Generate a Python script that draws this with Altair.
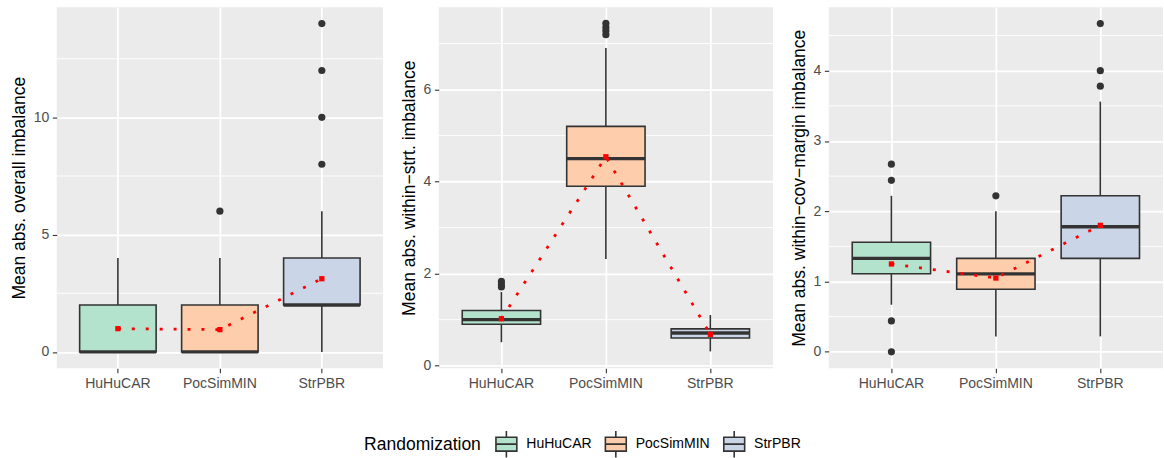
import altair as alt
import pandas as pd

CATS = ["HuHuCAR", "PocSimMIN", "StrPBR"]
FILLS = ["#B3E2CD", "#FDCDAC", "#CBD5E8"]

# ---- Panel 1: overall imbalance
p1_lower = [0, 0, 0]
p1_q1 = [0, 0, 2]
p1_median = [0, 0, 2]
p1_q3 = [2, 2, 4]
p1_upper = [4, 4, 6]
p1_mean = [0.99, 0.95, 3.12]
p1_out_cat = ["PocSimMIN", "StrPBR", "StrPBR", "StrPBR", "StrPBR"]
p1_out_val = [6, 8, 10, 12, 14]
p1_ticks = [0, 5, 10]
p1_minor = [2.5, 7.5, 12.5]
p1_domain = [-0.7, 14.7]
p1_title = "Mean abs. overall imbalance"

# ---- Panel 2: within-stratum imbalance
p2_lower = [0.51, 2.32, 0.31]
p2_q1 = [0.90, 3.90, 0.60]
p2_median = [1.00, 4.50, 0.71]
p2_q3 = [1.20, 5.20, 0.80]
p2_upper = [1.60, 6.90, 1.10]
p2_mean = [1.02, 4.54, 0.68]
p2_out_cat = ["HuHuCAR", "HuHuCAR", "HuHuCAR", "PocSimMIN", "PocSimMIN", "PocSimMIN", "PocSimMIN"]
p2_out_val = [1.71, 1.76, 1.83, 7.19, 7.27, 7.35, 7.44]
p2_ticks = [0, 2, 4, 6]
p2_minor = [1, 3, 5, 7]
p2_domain = [-0.057, 7.79]
p2_title = "Mean abs. within\u2212strt. imbalance"

# ---- Panel 3: within-covariate-margin imbalance
p3_lower = [0.67, 0.22, 0.22]
p3_q1 = [1.11, 0.89, 1.33]
p3_median = [1.33, 1.11, 1.78]
p3_q3 = [1.56, 1.33, 2.22]
p3_upper = [2.22, 2.00, 3.56]
p3_mean = [1.25, 1.05, 1.80]
p3_out_cat = ["HuHuCAR", "HuHuCAR", "HuHuCAR", "HuHuCAR", "PocSimMIN", "StrPBR", "StrPBR", "StrPBR"]
p3_out_val = [0.0, 0.44, 2.44, 2.67, 2.22, 3.78, 4.00, 4.67]
p3_ticks = [0, 1, 2, 3, 4]
p3_minor = [0.5, 1.5, 2.5, 3.5, 4.5]
p3_domain = [-0.234, 4.904]
p3_title = "Mean abs. within\u2212cov\u2212margin imbalance"

DARK = "#333333"
HEIGHT = 363

LEGEND_PATH = ("M-0.75,-0.5H0.75V0.5H-0.75Z M-0.75,0H0.75 "
               "M0,-0.5V-0.95 M0,0.5V0.95")


def panel(lower, q1, med, q3, upper, means, out_cat, out_val,
          ticks, minor, domain, title, width, show_legend):
    box = pd.DataFrame({"cat": CATS, "lower": lower, "q1": q1, "median": med,
                        "q3": q3, "upper": upper, "mean": means})
    outl = pd.DataFrame({"cat": out_cat, "v": out_val})
    mnr = pd.DataFrame({"v": minor})

    xs = alt.Scale(type="band", domain=CATS, paddingInner=0, paddingOuter=0.1)
    xaxis = alt.Axis(title=None, labelAngle=0, grid=True)
    ys = alt.Scale(domain=domain, nice=False, zero=False)
    yaxis = alt.Axis(values=ticks, grid=True, title=title)

    def X():
        return alt.X("cat:N", sort=CATS, scale=xs, axis=xaxis)

    step = width / 3.2

    minor_layer = alt.Chart(mnr).mark_rule(color="white", strokeWidth=0.9).encode(
        y=alt.Y("v:Q", scale=ys, axis=yaxis)
    )
    whisk = alt.Chart(box).mark_rule(color=DARK, strokeWidth=1.6).encode(
        x=X(), y=alt.Y("lower:Q", scale=ys, axis=yaxis), y2="upper:Q"
    )
    legend = alt.Legend(
        orient="none", legendX=309, legendY=424, direction="horizontal",
        title="Randomization", titleOrient="left", titleFontSize=17.6,
        titleFontWeight="normal", titleColor="black", titlePadding=10,
        titleBaseline="middle",
        labelFontSize=14.1, labelColor="black", labelOffset=5,
        columnPadding=9, symbolType=LEGEND_PATH, symbolSize=784,
        symbolStrokeColor=DARK, symbolStrokeWidth=1.6, symbolOpacity=1,
    )
    color_kw = dict(scale=alt.Scale(domain=CATS, range=FILLS), legend=legend)
    boxes = alt.Chart(box).mark_bar(
        width=alt.RelativeBandSize(0.75), stroke=DARK, strokeWidth=1.6, opacity=1
    ).encode(
        x=X(), y=alt.Y("q1:Q", scale=ys, axis=yaxis), y2="q3:Q",
        color=alt.Color("cat:N", title="Randomization", **color_kw),
    )
    medians = alt.Chart(box).mark_tick(
        color=DARK, thickness=3.4, size=0.75 * step, opacity=1
    ).encode(x=X(), y=alt.Y("median:Q", scale=ys, axis=yaxis))
    outliers = alt.Chart(outl).mark_circle(color=DARK, size=52, opacity=1).encode(
        x=X(), y=alt.Y("v:Q", scale=ys, axis=yaxis)
    )
    mline = alt.Chart(box).mark_line(
        color="red", strokeWidth=2.8, strokeDash=[3, 11], strokeCap="butt"
    ).encode(x=X(), y=alt.Y("mean:Q", scale=ys, axis=yaxis))
    mpts = alt.Chart(box).mark_point(
        shape="square", filled=True, color="red", size=28, opacity=1
    ).encode(x=X(), y=alt.Y("mean:Q", scale=ys, axis=yaxis))

    return alt.layer(minor_layer, whisk, boxes, medians, outliers, mline, mpts).properties(
        width=width, height=HEIGHT
    )


c1 = panel(p1_lower, p1_q1, p1_median, p1_q3, p1_upper, p1_mean, p1_out_cat, p1_out_val,
           p1_ticks, p1_minor, p1_domain, p1_title, 328, True)
c2 = panel(p2_lower, p2_q1, p2_median, p2_q3, p2_upper, p2_mean, p2_out_cat, p2_out_val,
           p2_ticks, p2_minor, p2_domain, p2_title, 336, True)
c3 = panel(p3_lower, p3_q1, p3_median, p3_q3, p3_upper, p3_mean, p3_out_cat, p3_out_val,
           p3_ticks, p3_minor, p3_domain, p3_title, 336, True)

chart = alt.hconcat(c1, c2, c3, spacing=16).properties(
    padding={"left": 10, "top": 6, "right": 0, "bottom": 0}
).configure(
    font="Liberation Sans"
).configure_view(
    fill="#EBEBEB", stroke=None
).configure_axis(
    domain=False, tickColor=DARK, tickSize=4.4, tickWidth=1.1,
    labelColor="#4D4D4D", labelFontSize=14.1, labelPadding=3.5,
    titleFontSize=17.6, titleFontWeight="normal", titleColor="black",
    titlePadding=5, gridColor="white", gridWidth=1.8,
)

chart.save("out.html", embed_options={"renderer": "svg", "actions": False})
